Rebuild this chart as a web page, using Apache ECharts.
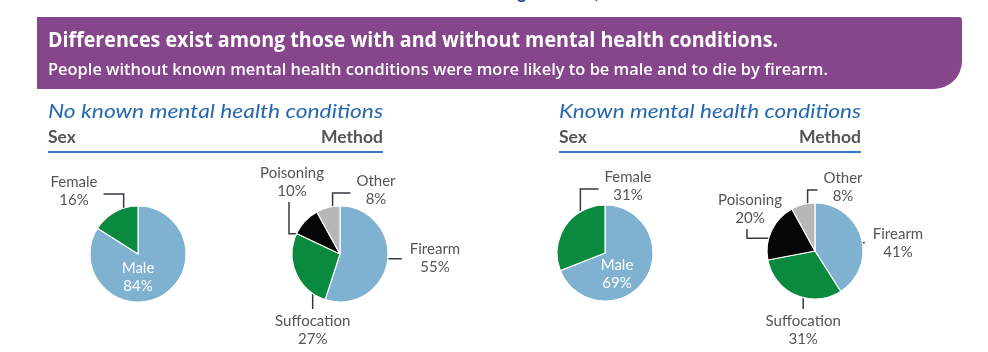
<!DOCTYPE html>
<html>
<head>
<meta charset="utf-8">
<script src="https://cdn.jsdelivr.net/npm/echarts@6/dist/echarts.min.js"></script>
<style>
  html, body { margin: 0; padding: 0; background: #fff; }
  #chart { width: 988px; height: 352px; }
</style>
</head>
<body>
<div id="chart"></div>
<script>
// ---- data ----
const sexNames = ['Male', 'Female'];
const sexNoKnown = [84, 16];
const sexKnown = [69, 31];
const methodNames = ['Firearm', 'Suffocation', 'Poisoning', 'Other'];
const methodNoKnown = [55, 27, 10, 8];
const methodKnown = [41, 31, 20, 8];

const headerTitle = 'Differences exist among those with and without mental health conditions.';
const headerSub = 'People without known mental health conditions were more likely to be male and to die by firearm.';
const panelTitles = ['No known mental health conditions', 'Known mental health conditions'];

// ---- styles ----
const PURPLE = '#85468b';
const BLUE_TXT = '#2468b0';
const LINE_BLUE = '#3378bd';
const GRAY_TXT = '#555555';
const sexColors = ['#7fb1d1', '#0a8a3e'];
const methodColors = ['#7fb1d1', '#0a8a3e', '#050505', '#b7b7b7'];
const HEAD_FONT = '"Open Sans", "Noto Sans", sans-serif';
const BODY_FONT = 'Lato, "Noto Sans", sans-serif';
const R = 48;

// horizontal squeeze so a text of given size spans a given width
const ctx2d = document.createElement('canvas').getContext('2d');
function squeeze(text, font, width) {
    ctx2d.font = font;
    return width / ctx2d.measureText(text).width;
}

function fittedText(text, x, y, font, fill, width, align) {
    const sx = squeeze(text, font, width);
    return {
        type: 'text', x: x, y: y, scaleX: sx,
        style: { text: text, x: 0, y: 0, align: align || 'left', verticalAlign: 'middle', fill: fill, font: font }
    };
}

/**
 * label placement: offset of label centre from the pie centre and leader type
 * h: straight horizontal, v: straight vertical,
 * hv: horizontal from label then down into slice, vh: down from label then across
 */
function makeLayout(center, values, spec) {
    const total = values.reduce((a, b) => a + b, 0);
    let acc = 0;
    const anchors = values.map(v => {
        const mid = (acc + v / 2) / total * Math.PI * 2;
        acc += v;
        return [center[0] + Math.sin(mid) * R * 0.62, center[1] - Math.cos(mid) * R * 0.62];
    });
    return function (p) {
        const s = spec[p.dataIndex];
        const a = anchors[p.dataIndex];
        const w = p.labelRect.width, h = p.labelRect.height;
        let lx = center[0] + s.off[0];
        let ly = center[1] + s.off[1];
        let pts = null;
        if (s.type === 'h') {
            ly = a[1];
            const ex = lx > a[0] ? lx - w / 2 - 8 : lx + w / 2 + 8;
            pts = [a, [ex, a[1]]];
        } else if (s.type === 'v') {
            lx = a[0];
            pts = [a, [a[0], ly - h / 2 - 3]];
        } else if (s.type === 'hv') {
            const ex = lx > a[0] ? lx - w / 2 - 6 : lx + w / 2 + 6;
            pts = [[ex, ly + 3], [a[0], ly + 3], a];
        } else if (s.type === 'vh') {
            pts = [[lx - 3, ly + h / 2 + 2], [lx - 3, a[1]], a];
        }
        const out = { x: lx, y: ly, align: 'center', verticalAlign: 'middle' };
        if (pts) out.labelLinePoints = pts;
        return out;
    };
}

function pieSeries(center, names, values, colors, spec) {
    return {
        type: 'pie',
        center: center,
        radius: R,
        startAngle: 90,
        clockwise: true,
        avoidLabelOverlap: false,
        animation: false,
        silent: true,
        itemStyle: { borderColor: '#ffffff', borderWidth: 1.2 },
        label: {
            show: true,
            position: 'outside',
            formatter: '{b}\n{c}%',
            color: GRAY_TXT,
            fontFamily: BODY_FONT,
            fontSize: 15,
            lineHeight: 18
        },
        labelLine: { show: true, lineStyle: { color: '#333a40', width: 1.5 } },
        labelLayout: makeLayout(center, values, spec),
        data: names.map((n, i) => {
            const d = { name: n, value: values[i], itemStyle: { color: colors[i] } };
            if (spec[i].type === 'in') {
                d.label = { position: 'inside', color: '#ffffff' };
                d.labelLine = { show: false };
            }
            return d;
        })
    };
}

const series = [
    pieSeries([138, 254], sexNames, sexNoKnown, sexColors, [
        { type: 'in', off: [0, 23] },
        { type: 'hv', off: [-64, -63] }
    ]),
    pieSeries([340, 254], methodNames, methodNoKnown, methodColors, [
        { type: 'h', off: [95, 0] },
        { type: 'v', off: [0, 76] },
        { type: 'vh', off: [-48, -72] },
        { type: 'hv', off: [36, -64] }
    ]),
    pieSeries([605, 253], sexNames, sexKnown, sexColors, [
        { type: 'in', off: [12, 21] },
        { type: 'hv', off: [23, -67] }
    ]),
    pieSeries([815, 251], methodNames, methodKnown, methodColors, [
        { type: 'h', off: [83, 0] },
        { type: 'v', off: [0, 79] },
        { type: 'vh', off: [-65, -42] },
        { type: 'hv', off: [28, -64] }
    ])
];

// headings, rules and the purple banner
const titleFont = 'italic normal 19px ' + BODY_FONT;
const subFont = 'normal bold 16.5px ' + BODY_FONT;

function panelHead(x0, x1, title) {
    return [
        fittedText(title, x0, 112, titleFont, BLUE_TXT, x1 - x0),
        fittedText('Sex', x0, 138, subFont, GRAY_TXT, 28),
        fittedText('Method', x1, 138, subFont, GRAY_TXT, 62, 'right'),
        { type: 'line', shape: { x1: x0, y1: 152, x2: x1, y2: 152 }, style: { stroke: LINE_BLUE, lineWidth: 2 } }
    ];
}

const graphic = [
    // cut-off heading of the previous section at the very top
    { type: 'text', style: { text: 'g', x: 517, y: -15.5, fill: '#1f4f95', font: 'bold 18px ' + BODY_FONT } },
    { type: 'text', style: { text: ')', x: 595, y: -14.5, fill: '#666', font: 'bold 16px ' + BODY_FONT } },
    { type: 'rect', shape: { x: 37, y: 17, width: 925, height: 72, r: [0, 3, 28, 0] }, style: { fill: PURPLE } },
    fittedText(headerTitle, 48, 41, 'normal bold 21.5px ' + HEAD_FONT, '#ffffff', 730),
    fittedText(headerSub, 48, 70, 'normal 600 17px ' + HEAD_FONT, '#ffffff', 780),
    ...panelHead(48, 383, panelTitles[0]),
    ...panelHead(559, 861, panelTitles[1])
];

const chart = echarts.init(document.getElementById('chart'));
chart.setOption({
    backgroundColor: '#ffffff',
    animation: false,
    graphic: graphic,
    series: series
});
</script>
</body>
</html>
